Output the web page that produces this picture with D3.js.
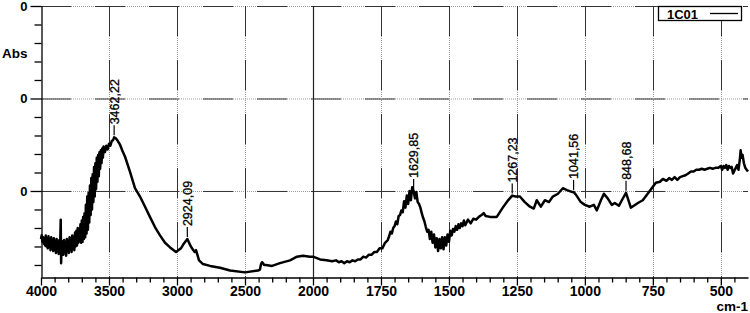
<!DOCTYPE html>
<html>
<head>
<meta charset="utf-8">
<script src="https://cdn.jsdelivr.net/npm/d3@7"></script>
<style>
  html, body { margin: 0; padding: 0; background: #fff; }
  svg { display: block; font-family: "Liberation Sans", Arial, sans-serif; }
</style>
</head>
<body>
<svg id="chart" width="750" height="313"></svg>
<script>
// ---- data ----
const wavenumbers = [
  4000,3995,3990,3985,3980,3975,3970,3965,3960,3955,
  3950,3945,3940,3935,3930,3925,3920,3915,3910,3905,
  3900,3895,3890,3885,3880,3875,3870,3865,3860,3855,
  3852,3848,3845,3840,3835,3830,3825,3820,3815,3810,
  3805,3800,3795,3790,3785,3780,3775,3770,3765,3760,
  3755,3750,3745,3740,3735,3730,3725,3720,3715,3710,
  3705,3700,3695,3690,3685,3680,3675,3670,3665,3660,
  3655,3650,3645,3640,3635,3630,3625,3620,3615,3610,
  3605,3600,3595,3590,3585,3580,3575,3570,3565,3560,
  3555,3550,3545,3540,3530,3520,3510,3500,3490,3480,
  3470,3462.22,3450,3435,3419,3400,
  3382,3346,3309,3272,3235,3199,3162,3125,3088,3051,3007,2971,2950,2924.09,2905,2890,2870,2860,2850,2838,
  2809,2757,2684,2610,2500,2404,2390,2382,2375,2368,2360,2346,2301,2243,2169,2118,2074,2022,2000,1974,
  1950,1930,1915,1905,1895,1885,1875,1865,1855,1845,1835,1825,1815,1805,1795,1785,1775,1765,1755,1745,
  1735,1725,1720,1715,1710,1705,1700,1695,1690,1685,1680,1675,1670,1665,1660,1655,1650,1645,1640,1635,
  1629.85,1625,1620,1615,1610,1605,1600,1595,1590,1585,1580,1575,1570,1565,1560,1555,1550,1545,1540,1535,
  1530,1525,1520,1515,1510,1505,1500,1495,1490,1485,1480,1475,1470,1465,1460,1455,1450,1445,1440,1430,
  1420,1410,1400,1390,1380,1372,1365,1349,1324,1302,1285,1276,1267.23,1255,1239,1221,1202,1188,1177,1162,
  1147,1132,1118,1099,1081,1066,1048,1041.56,1033,1015,1000,982,967,956,941,930,916,901,890,875,
  864,848.68,842,831,820,805,787,769,754,739,724,713,700,690,680,670,660,650,640,630,
  620,610,600,590,580,570,560,550,540,530,520,510,500,495,490,485,480,475,470,465,
  460,455,450,445,440,435,430,427,424,420,415,410,405,400
];
const absorbance = [
  .048,.052,.045,.050,.043,.049,.041,.052,.040,.049,
  .038,.051,.041,.048,.036,.050,.039,.047,.035,.049,
  .036,.046,.033,.048,.037,.045,.032,.047,.036,.069,
  .022,.046,.034,.045,.031,.047,.035,.044,.030,.048,
  .036,.046,.033,.050,.037,.048,.034,.052,.038,.050,
  .036,.055,.040,.057,.041,.060,.044,.058,.046,.064,
  .044,.068,.045,.072,.048,.076,.050,.085,.054,.094,
  .058,.098,.066,.106,.074,.114,.080,.118,.088,.126,
  .094,.130,.102,.136,.110,.139,.116,.142,.124,.144,
  .130,.146,.136,.148,.142,.149,.145,.151,.149,.154,
  .155,.158,.157,.154,.150,.143,
  .137,.121,.103,.094,.083,.072,.061,.052,.044,.039,.034,.038,.043,.048,.042,.038,.034,.036,.031,.025,
  .021,.019,.017,.014,.012,.014,.015,.021,.023,.022,.020,.020,.019,.022,.025,.029,.030,.029,.029,.026,
  .025,.024,.025,.023,.024,.022,.024,.023,.025,.024,.026,.026,.029,.028,.031,.031,.034,.034,.038,.038,
  .044,.047,.051,.056,.054,.060,.062,.067,.064,.073,.074,.079,.077,.089,.082,.095,.086,.100,.090,.104,
  .100,.092,.099,.088,.086,.082,.076,.071,.067,.061,.056,.058,.048,.056,.044,.053,.039,.049,.035,.048,
  .038,.050,.037,.050,.041,.053,.045,.057,.052,.059,.056,.062,.058,.064,.060,.065,.062,.068,.063,.069,
  .065,.070,.069,.072,.074,.076,.073,.072,.072,.082,.089,.092,.095,.094,.094,.088,.083,.081,.090,.083,
  .090,.088,.094,.097,.103,.101,.099,.099,.096,.088,.085,.083,.085,.079,.090,.097,.092,.085,.087,.084,
  .090,.098,.092,.082,.084,.087,.090,.097,.103,.109,.110,.113,.111,.114,.112,.115,.112,.115,.116,.117,
  .119,.121,.121,.123,.123,.124,.123,.124,.125,.124,.125,.125,.127,.123,.127,.125,.128,.123,.127,.125,
  .126,.119,.122,.125,.128,.123,.134,.144,.136,.139,.130,.125,.123,.121
];
const peakWavenumbers = [3462.22, 2924.09, 1629.85, 1267.23, 1041.56, 848.68];
const xMajorTicks = [4000, 3500, 3000, 2500, 2000, 1750, 1500, 1250, 1000, 750, 500];
const xGridTicks = [3500, 3000, 2500, 2000, 1750, 1500, 1250, 1000, 750, 500];
const yMajorTicks = [0.1, 0.2, 0.3];
const yMinorTicks = [0.02,0.04,0.06,0.08,0.12,0.14,0.16,0.18,0.22,0.24,0.26,0.28];
const seriesName = "1C01";
const yTitle = "Abs";
const xTitle = "cm-1";

// ---- chart ----
const svg = d3.select("#chart");
const x = d3.scaleLinear().domain([4000, 2000, 400]).range([41, 313, 748]);
const y = d3.scaleLinear().domain([0.007, 0.3]).range([277, 6]);

const xMinorTicks = d3.range(3900, 2000, -100).concat(d3.range(1950, 400, -50))
  .filter(v => !xMajorTicks.includes(v));

// grid
const grid = svg.append("g");
function gridLine(x1, y1, x2, y2, solid) {
  if (solid) {
    grid.append("line").attr("x1", x1).attr("y1", y1).attr("x2", x2).attr("y2", y2)
      .attr("stroke", "#222").attr("stroke-width", 1.2);
    return;
  }
  grid.append("line").attr("x1", x1).attr("y1", y1).attr("x2", x2).attr("y2", y2)
    .attr("stroke", "#9a9a9a").attr("stroke-width", 1).attr("stroke-dasharray", "1,1");
  grid.append("line").attr("x1", x1).attr("y1", y1).attr("x2", x2).attr("y2", y2)
    .attr("stroke", "#333").attr("stroke-width", 1).attr("stroke-dasharray", "30,24");
}
yMajorTicks.forEach(v => gridLine(41, y(v) + 0.5, 748, y(v) + 0.5, false));
xGridTicks.forEach(v => gridLine(Math.round(x(v)) + 0.5, 6, Math.round(x(v)) + 0.5, 277, v === 2000));

// axes
const tickFont = (g, size) => g.selectAll("text")
  .attr("font-family", "'Liberation Sans', Arial, sans-serif")
  .attr("font-weight", "bold").attr("font-size", size).attr("fill", "#000");

const xAxisMinor = svg.append("g").attr("transform", "translate(0,277.5)")
  .call(d3.axisBottom(x).tickValues(xMinorTicks).tickSize(5).tickSizeOuter(0).tickFormat(""));
xAxisMinor.select(".domain").remove();
const xAxis = svg.append("g").attr("transform", "translate(0,277.5)")
  .call(d3.axisBottom(x).tickValues(xMajorTicks).tickSize(8).tickSizeOuter(0)
    .tickPadding(1).tickFormat(d3.format("d")));
tickFont(xAxis, 14);

const yAxisMinor = svg.append("g").attr("transform", "translate(41.5,0)")
  .call(d3.axisLeft(y).tickValues(yMinorTicks).tickSize(7).tickSizeOuter(0).tickFormat(""));
yAxisMinor.select(".domain").remove();
const yAxis = svg.append("g").attr("transform", "translate(41.5,0)")
  .call(d3.axisLeft(y).tickValues(yMajorTicks).tickSize(11).tickSizeOuter(0)
    .tickPadding(3).tickFormat(d3.format(".0f")));
tickFont(yAxis, 13);
svg.selectAll(".domain, .tick line").attr("stroke", "#000").attr("stroke-width", 1.3);

// spectrum
const data = wavenumbers.map((w, i) => ({ w, a: absorbance[i] }));
svg.append("path").datum(data)
  .attr("fill", "none").attr("stroke", "#000").attr("stroke-width", 2.5)
  .attr("stroke-linejoin", "round")
  .attr("d", d3.line().x(d => x(d.w)).y(d => y(d.a)));

// peak labels
const locale = d3.formatLocale({ decimal: ",", thousands: ".", grouping: [3], currency: ["", ""] });
const fmt = locale.format(".2f");
peakWavenumbers.forEach(p => {
  const d = data.reduce((b, c) => Math.abs(c.w - p) < Math.abs(b.w - p) ? c : b);
  const px = x(p), py = y(d.a);
  svg.append("line").attr("x1", px).attr("x2", px).attr("y1", py - 2).attr("y2", py - 12)
    .attr("stroke", "#000").attr("stroke-width", 1.2);
  svg.append("text")
    .attr("transform", `translate(${px},${py - 13}) rotate(-90)`)
    .attr("dy", "0.36em").attr("text-anchor", "start")
    .attr("font-size", 12.5).attr("fill", "#000")
    .attr("stroke", "#000").attr("stroke-width", 0.3)
    .text(fmt(p));
});

// titles
svg.append("text").attr("x", 2).attr("y", 58).attr("font-size", 13.5).attr("font-weight", "bold")
  .text(yTitle);
svg.append("text").attr("x", 748).attr("y", 311).attr("text-anchor", "end")
  .attr("font-size", 13.5).attr("font-weight", "bold").text(xTitle);

// legend
const lg = svg.append("g");
lg.append("rect").attr("x", 658.5).attr("y", 6.5).attr("width", 83).attr("height", 14)
  .attr("fill", "#fff").attr("stroke", "#000").attr("stroke-width", 1.3);
lg.append("text").attr("x", 667).attr("y", 18.5).attr("font-size", 13).attr("font-weight", "bold")
  .text(seriesName);
lg.append("line").attr("x1", 710).attr("x2", 738).attr("y1", 13.5).attr("y2", 13.5)
  .attr("stroke", "#000").attr("stroke-width", 1.3);
</script>
</body>
</html>
